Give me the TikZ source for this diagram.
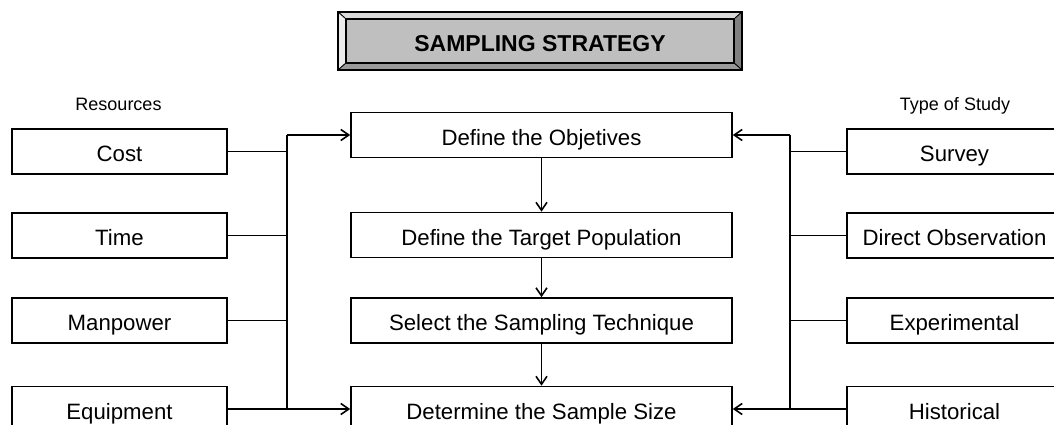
\documentclass[tikz,border=0pt]{standalone}
\usepackage{fontspec}
\setmainfont{Liberation Sans}
\usepackage{xcolor}
\usetikzlibrary{arrows.meta}

\begin{document}
\begin{tikzpicture}[x=1pt, y=-1pt,
    box/.style={draw, line width=1.6pt, fill=white, minimum width=215pt, minimum height=45pt,
      inner sep=0pt, font=\fontsize{22.2}{24}\selectfont, text height=20pt, text depth=0pt},
    stepbox/.style={box, minimum width=381pt},
    headtext/.style={font=\fontsize{18}{20}\selectfont, anchor=base},
    link/.style={line width=1.6pt},
    >={Straight Barb[length=8pt,width=11pt]}]
            \useasboundingbox (0,0) rectangle (1054,425);
            \clip (0,0) rectangle (1054,425);

            % Title
            \draw[line width=0.8pt, fill=gray!30] (338,12) -- (742,12) -- (734,19) -- (346,19) -- cycle;
            \draw[line width=0.8pt, fill=gray!15] (338,12) -- (346,19) -- (346,63) -- (338,70) -- cycle;
            \draw[line width=0.8pt, fill=gray] (742,12) -- (742,70) -- (734,63) -- (734,19) -- cycle;
            \draw[line width=0.8pt, fill=gray!80] (338,70) -- (742,70) -- (734,63) -- (346,63) -- cycle;
            \node[draw, line width=1.6pt, fill=gray!50, minimum width=388pt, minimum height=44pt, inner sep=0pt,
              font=\bfseries\fontsize{23}{25}\selectfont, text height=21pt, text depth=0pt] (title) at (540,41) {SAMPLING STRATEGY};
            \draw[line width=1.8pt] (338,12) rectangle (742,70);

            % Headers
            \node[headtext] (res) at (118.5,111) {Resources};
            \node[headtext] (typ) at (955,111) {Type of Study};

            % Steps
            \node[stepbox] (obj) at (541.5,135) {Define the Objetives};
            \node[stepbox] (pop) at (541.5,235) {Define the Target Population};
            \node[stepbox] (tech) at (541.5,320.5) {Select the Sampling Technique};
            \node[stepbox] (size) at (541.5,409) {Determine the Sample Size};

            % Resources
            \node[box] (cost) at (119.5,151.5) {Cost};
            \node[box] (time) at (119.5,235.5) {Time};
            \node[box] (man) at (119.5,320.5) {Manpower};
            \node[box] (equip) at (119.5,409) {Equipment};

            % Type of study
            \node[box] (survey) at (954.5,151.5) {Survey};
            \node[box] (direct) at (954.5,235.5) {Direct Observation};
            \node[box] (exper) at (954.5,320.5) {Experimental};
            \node[box] (hist) at (954.5,409) {Historical};

            % Buses
            \coordinate (lt) at (287,135);
            \coordinate (lb) at (287,409);
            \coordinate (rt) at (790,135);
            \coordinate (rb) at (790,409);

            % Step arrows
            \draw[link, ->] (obj) -- (pop);
            \draw[link, ->] (pop) -- (tech);
            \draw[link, ->] (tech) -- (size);

            % Left side
            \draw[link] (lt) -- (lb);
            \draw[link, ->] (lt) -- (obj.west);
            \draw[link] (cost.east) -- (cost.east -| lt);
            \draw[link] (time.east) -- (time.east -| lt);
            \draw[link] (man.east) -- (man.east -| lt);
            \draw[link, ->] (equip.east) -- (size.west);

            % Right side
            \draw[link] (rt) -- (rb);
            \draw[link, ->] (rt) -- (obj.east);
            \draw[link] (survey.west) -- (survey.west -| rt);
            \draw[link] (direct.west) -- (direct.west -| rt);
            \draw[link] (exper.west) -- (exper.west -| rt);
            \draw[link, ->] (hist.west) -- (size.east);
\end{tikzpicture}
\end{document}
